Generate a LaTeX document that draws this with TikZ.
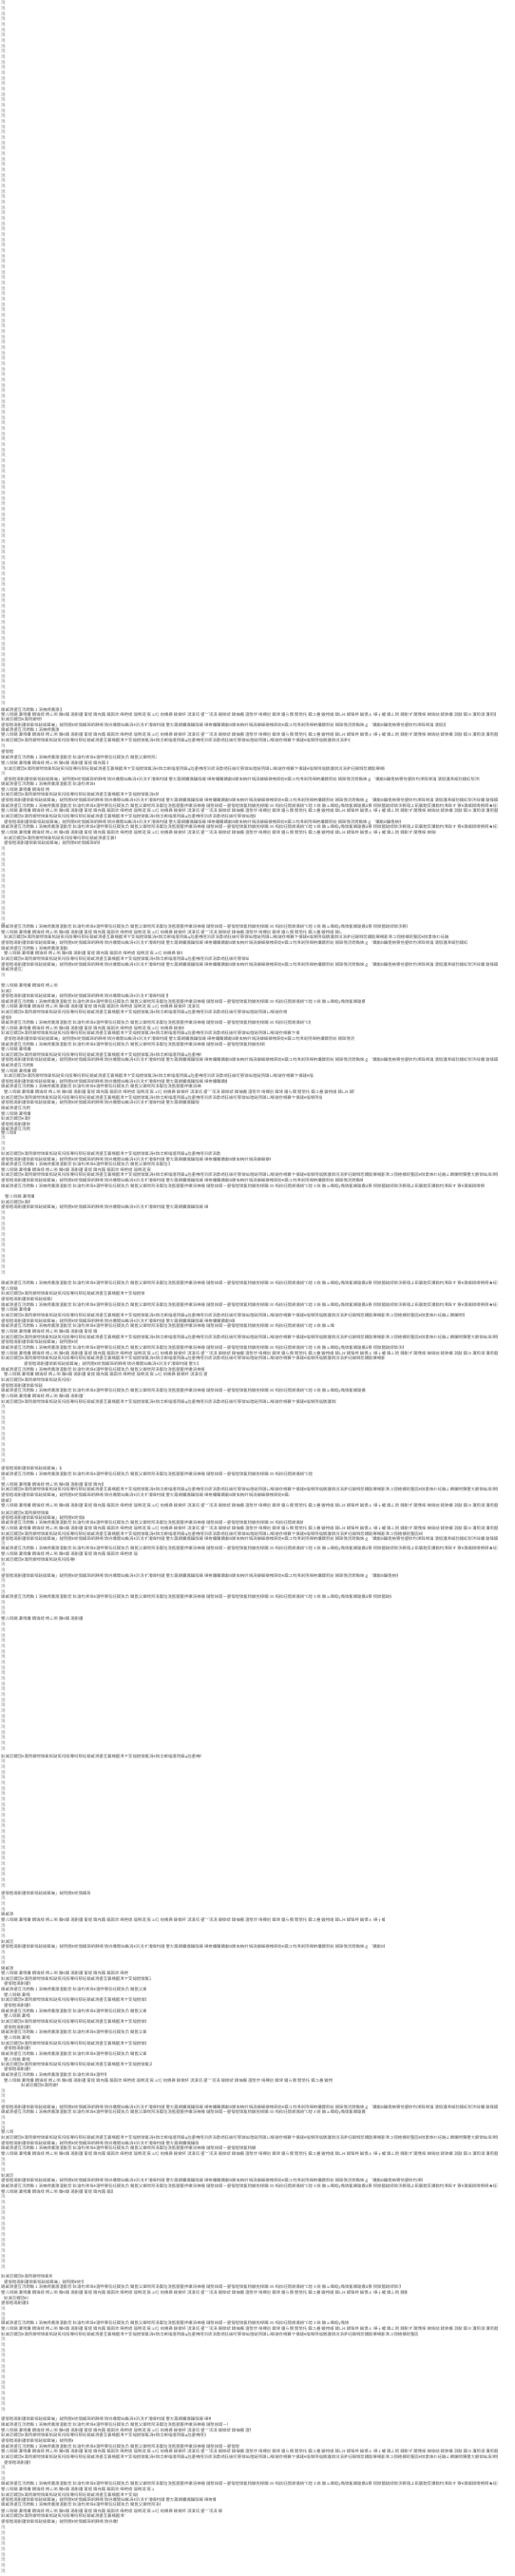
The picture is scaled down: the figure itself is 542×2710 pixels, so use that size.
\documentclass[tikz,border=0pt]{standalone}
\usepackage{fontspec}
\newfontfamily\cjkfont{Noto Sans CJK SC}
\definecolor{inkgray}{HTML}{555555}
\definecolor{markgray}{HTML}{7A7A7A}
\newcommand{\mjA}{鍙傛暟璁剧疆锛氭牴鎹綋鍓嶉」鐩殑闇€姹傝繘琛岄厤缃 锛岃繖閲屾槸涓€浜涚ず渚嬫枃鏈 鐢ㄤ簬娴嬭瘯鏁版嵁 缂栫爜闂鐨勮В鍐虫柟妗堝涓嬶細棣栧厛妫€鏌ユ枃浠剁殑缂栫爜鏍煎紡 鐒跺悗浣跨敤姝ｇ‘鐨勮В鐮佹柟寮忚鍙栨枃浠跺唴瀹 濡傛灉浠嶇劧鍑虹幇涔辩爜 璇锋鏌ョ郴缁熺殑鍖哄煙璁剧疆 鏁版嵁搴撹繛鎺ュけ璐ワ紝璇锋鏌ラ厤缃枃浠</}
\newcommand{\mjB}{鎴戜滑鍙互浣跨敤 1 涓柟娉曟潵澶勭悊 鈥滄枃浠垛€濇牸寮忥紝鍥犱负 閫氬父鎯呭喌涓嬮兘浼氬嚭鐜拌繖涓棶棰 鏈嶅姟鍣ㄧ鍙傛暟锛氳秴鏃舵椂闂 30 绉掞紝閲嶈瘯娆℃暟 3 娆 鏃ュ織绾у埆锛氳皟璇曟ā寮 杈撳嚭鐩綍锛氶粯璁よ矾寰勪笅鐨勬枃浠跺す 寮€濮嬪鐞嗕换鍔★紝璇风◢鍊 浠诲姟瀹屾垚锛屽叡璁″鐞嗘枃浠舵暟閲忓涓</}
\newcommand{\mjC}{鐢ㄦ埛鍚 瀵嗙爜 鐧诲綍 娉ㄥ唽 閫€鍑 璁剧疆 甯姪 鍏充簬 鏂囦欢 缂栬緫 瑙嗗浘 宸ュ叿 绐楀彛 鎵撳紑 淇濆瓨 鍙﹀瓨涓 鎵撳嵃 鍏抽棴 澶嶅埗 绮樿创 鍓垏 鎾ら攢 閲嶅仛 鏌ユ壘 鏇挎崲 鍏ㄩ€ 鍒锋柊 鏀惧ぇ 缂╁皬 鍏ㄥ睆 鏄剧ず 闅愯棌 娣诲姞 鍒犻櫎 淇敼 鏌ヨ 瀵煎叆 瀵煎嚭 涓婁紶 涓嬭浇 鍚屾 澶囦唤 鎭㈠</}
\newcommand{\mjD}{鈥滅洰鏍団€濈殑鍐呭锛氭牴鎹笂杩版弿杩帮紝鎴戜滑鍙互寰楀嚭浠ヤ笅缁撹锛氱涓€锛岀郴缁熺殑鎬ц兘鍙栧喅浜庡涓洜绱狅紱绗簩锛屾暟鎹殑璐ㄩ噺鐩存帴褰卞搷鏈€缁堢殑缁撴灉锛涚涓夛紝鍚堢悊鐨勯厤缃彲浠ユ彁楂樻晥鐜囥€傚洜姝わ紝鍦ㄥ疄闄呭簲鐢ㄤ腑锛屾垜浠簲璇ョ患鍚堣€冭檻鍚勭鍥犵礌锛屽仛鍑烘渶浣崇殑閫夋嫨銆</}
\tikzset{
  txtline/.style={anchor=west, inner sep=0pt, font=\cjkfont\fontsize{4.4}{5}\selectfont, text=inkgray},
  markline/.style={anchor=west, inner sep=0pt, font=\cjkfont\fontsize{4.4}{5}\selectfont, text=markgray}
}
\begin{document}
\begin{tikzpicture}[x=1bp,y=1bp]
\useasboundingbox[fill=white] (0,0) rectangle (542,-2710);
% marker-only lines (ranges)
\foreach \ya/\yb [count=\r] in {3/741, 893/973, 1276/1344, 1480/1539, 1709/1842, 1853/1988, 2311/2388, 2461/2539, 2659/2708}{
  \pgfmathsetmacro\ysec{\ya+5.667}
  \foreach \y [count=\m] in {\ya,\ysec,...,\yb}{
    \node[markline] (mr\r-\m) at (1,-\y) {浣};
  }
}
% single marker lines
\foreach \y [count=\m] in {785,814,1026,1197,1203,1209,1556,1624,1646,1652,1663,1669,1675,1686,1692,1697,1997,2003,2009,2026,2031,2037,2054,2060,2065,2200,2205,2211,2228,2234,2239,2272,2277,2283,2429,2435,2440,2596,2602,2608}{
  \node[markline] (ms\m) at (1,-\y) {浣};
}
% text lines: y / visible length / left start
\foreach \y/\w/\xs [count=\k] in {
746.7/63/1, 752/520/1, 757/42/1, 763/467/1, 768/60/1, 773/522/1, 779/367/1,
791/12/1, 797/163/1, 803/112/1, 809/400/4, 820/500/4, 825/98/1, 831/50/1, 836/165/1,
842/522/1, 848/522/1, 853/522/1, 859/267/1, 865/417/4, 870/522/1, 876/457/1, 882/117/4, 887/100/4,
975/427/1, 981/358/1, 986/467/4, 992/490/1, 998/70/1, 1003/187/4, 1009/260/1, 1015/522/1, 1020/22/1,
1037/60/1, 1043/10/1, 1048/175/1, 1054/382/1, 1059/208/1, 1065/300/1, 1071/10/1, 1076/325/1,
1082/192/1, 1087/313/1, 1093/368/4, 1099/277/1, 1104/32/1, 1110/210/1, 1115/522/1, 1121/33/1,
1127/37/1, 1132/325/4, 1138/237/1, 1143/210/1, 1149/368/4, 1155/337/1, 1160/208/1,
1166/30/1, 1172/30/1, 1177/30/1, 1183/30/1, 1188/30/1, 1192/15/1,
1214/230/1, 1220/283/1, 1225/177/1, 1231/157/1, 1236/522/1, 1242/380/1, 1248/508/1,
1259/30/5, 1265/30/1, 1270/217/1,
1350/522/1, 1356/17/1, 1361/150/1, 1367/53/1, 1373/522/1, 1378/30/1, 1384/487/1, 1390/245/1,
1395/350/1, 1401/100/1, 1407/522/1, 1412/80/1, 1418/423/1, 1424/522/1, 1429/403/1, 1435/183/25,
1441/213/1, 1446/213/4, 1452/73/1, 1458/43/1, 1463/383/1, 1469/87/1, 1475/352/1,
1545/63/1, 1551/327/1, 1562/107/1, 1567/522/1, 1573/303/1, 1579/10/1, 1584/522/1,
1592/50/1, 1597/87/1, 1602/317/1, 1608/522/1, 1614/443/1, 1619/522/1, 1629/522/1, 1635/143/1,
1641/77/1, 1658/417/1, 1680/410/1, 1703/85/1, 1848/210/1,
1992/93/1, 2014/12/1, 2020/403/1, 2043/12/1, 2048/403/1, 2071/12/1, 2076/133/1, 2082/157/1,
2087/27/4, 2093/152/1, 2099/27/4, 2104/152/1, 2110/27/4, 2116/152/1, 2121/27/4, 2127/152/1,
2133/27/4, 2138/152/1, 2144/27/4, 2150/152/1, 2155/27/4, 2161/152/1, 2167/27/4, 2172/158/1,
2177/27/4, 2183/110/1, 2189/345/4, 2194/38/22, 2217/522/1, 2222/383/1, 2243/12/1, 2249/522/1,
2255/207/1, 2260/267/1, 2266/522/1, 2289/12/1, 2294/443/1, 2300/522/1, 2306/117/1,
2395/53/1, 2401/83/4, 2406/420/1, 2412/427/1, 2418/25/4, 2423/28/1, 2444/365/1, 2450/522/1,
2456/438/1, 2545/220/1, 2551/238/1, 2557/262/1, 2562/215/1, 2568/75/1, 2574/250/1,
2579/522/1, 2585/522/1, 2591/27/4, 2613/522/1, 2619/160/1, 2625/143/1, 2630/225/1,
2635/167/1, 2642/232/1, 2647/130/1, 2653/122/1}{
  \pgfmathtruncatemacro\sel{mod(\k,4)}
  \begin{scope}
    \clip (\xs,-\y-3) rectangle (\w+\xs,-\y+3);
    \node[txtline] (tl\k) at (\xs,-\y) {\ifcase\sel\mjA\or\mjB\or\mjC\else\mjD\fi};
  \end{scope}
}
\end{tikzpicture}
\end{document}
